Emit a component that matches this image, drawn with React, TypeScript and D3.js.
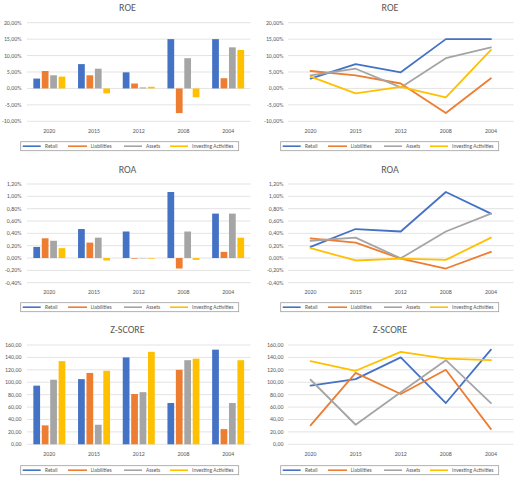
import React from 'react';
import * as d3 from 'd3';

const years = ['2020', '2015', '2012', '2008', '2004'];
const seriesNames = ['Retail', 'Liabilities', 'Assets', 'Investing Activities'];
const colors = ['#4472C4', '#ED7D31', '#A5A5A5', '#FFC000'];

// ROE, in percent
const roeRetail = [3.0, 7.4, 4.9, 15.0, 15.0];
const roeLiabilities = [5.3, 4.0, 1.5, -7.5, 3.1];
const roeAssets = [4.0, 6.0, 0.3, 9.2, 12.5];
const roeInvesting = [3.6, -1.5, 0.5, -2.7, 11.7];
const roeTicks = [-10, -5, 0, 5, 10, 15, 20];

// ROA, in percent
const roaRetail = [0.18, 0.47, 0.43, 1.07, 0.72];
const roaLiabilities = [0.32, 0.25, -0.01, -0.17, 0.1];
const roaAssets = [0.28, 0.33, -0.005, 0.43, 0.72];
const roaInvesting = [0.16, -0.04, -0.01, -0.03, 0.33];
const roaTicks = [-0.4, -0.2, 0, 0.2, 0.4, 0.6, 0.8, 1.0, 1.2];

// Z-score
const zRetail = [94.5, 105, 140, 66.5, 152.5];
const zLiabilities = [30.5, 115, 81, 120, 24.5];
const zAssets = [104, 31.5, 84, 135.5, 66.5];
const zInvesting = [134, 118.5, 149, 138, 135.5];
const zTicks = [0, 20, 40, 60, 80, 100, 120, 140, 160];

const FONT = 'Carlito, Calibri, Lato, sans-serif';
const TEXT = '#595959';

// rows: ROE, ROA, Z-SCORE ; cols: bars, lines
const rows = [
  { top: 22.7, bottom: 121.3, titleY: 7, xLabY: 130.7, legendTop: 141.7 },
  { top: 184, bottom: 282.7, titleY: 169, xLabY: 291.7, legendTop: 302.7 },
  { top: 345, bottom: 444.3, titleY: 329.7, xLabY: 453.7, legendTop: 465.7 },
];
const cols = [
  { left: 27, right: 250.5, labelRight: 21.5, titleX: 127.5, legendLeft: 20.7 },
  { left: 288, right: 513.5, labelRight: 283.5, titleX: 390, legendLeft: 280.7 },
];

const pct = (v: number) => d3.format('.2f')(v).replace('.', ',').replace('\u2212', '-') + '%';
const num = (v: number) => d3.format('.2f')(v).replace('.', ',').replace('\u2212', '-');

const legendItems = [
  { line: [2, 20], text: 24.3 },
  { line: [47.3, 66.3], text: 70 },
  { line: [103.3, 121.3], text: 125.3 },
  { line: [149.3, 167.3], text: 171.3 },
];

type PanelProps = {
  title: string;
  values: number[][];
  ticks: number[];
  fmt: (v: number) => string;
  kind: 'bar' | 'line';
  row: number;
  col: number;
};

const Panel = ({ title, values, ticks, fmt, kind, row, col }: PanelProps) => {
  const r = rows[row];
  const c = cols[col];
  const x = d3.scaleBand().domain(years).range([c.left, c.right]);
  const y = d3
    .scaleLinear()
    .domain([ticks[0], ticks[ticks.length - 1]])
    .range([r.bottom, r.top]);
  const groupW = 32;
  const x1 = d3.scaleBand().domain(seriesNames).range([0, groupW]).paddingInner(0.2);
  const off = (x.bandwidth() - groupW) / 2;
  const line = d3
    .line<number>()
    .x((_, i) => x(years[i])! + x.bandwidth() / 2)
    .y(d => y(d));

  return (
    <g>
      <text x={c.titleX} y={r.titleY} textAnchor="middle" dominantBaseline="central"
        fontSize={10} fill={TEXT} fontFamily={FONT}>{title}</text>
      {ticks.map(t => (
        <g key={t}>
          <line x1={c.left} x2={c.right} y1={y(t)} y2={y(t)} stroke="#D9D9D9" strokeWidth={0.75} />
          <text x={c.labelRight} y={y(t)} textAnchor="end" dominantBaseline="central"
            fontSize={5.9} fill={TEXT} fontFamily={FONT}>{fmt(t)}</text>
        </g>
      ))}
      {years.map(yr => (
        <text key={yr} x={x(yr)! + x.bandwidth() / 2} y={r.xLabY} textAnchor="middle"
          dominantBaseline="central" fontSize={5.9} fill={TEXT} fontFamily={FONT}>{yr}</text>
      ))}
      {kind === 'bar' &&
        values.map((vals, s) =>
          vals.map((v, i) => (
            <rect key={s + '-' + i}
              x={x(years[i])! + off + x1(seriesNames[s])!}
              y={Math.min(y(v), y(0))}
              width={x1.bandwidth()}
              height={Math.abs(y(v) - y(0))}
              fill={colors[s]} />
          ))
        )}
      {kind === 'line' &&
        values.map((vals, s) => (
          <path key={s} d={line(vals)!} fill="none" stroke={colors[s]} strokeWidth={1.8}
            strokeLinejoin="round" strokeLinecap="round" />
        ))}
      <g transform={`translate(${c.legendLeft},${r.legendTop})`}>
        <rect x={0} y={0} width={218} height={9} fill="#fff" stroke="#999" strokeWidth={0.75} />
        {seriesNames.map((name, s) => (
          <g key={name}>
            <line x1={legendItems[s].line[0]} x2={legendItems[s].line[1]} y1={4.5} y2={4.5}
              stroke={colors[s]} strokeWidth={1.6} />
            <text x={legendItems[s].text} y={4.6} dominantBaseline="central" fontSize={5.5}
              fill={TEXT} fontFamily={FONT}>{name}</text>
          </g>
        ))}
      </g>
    </g>
  );
};

const App = () => {
  const roe = [roeRetail, roeLiabilities, roeAssets, roeInvesting];
  const roa = [roaRetail, roaLiabilities, roaAssets, roaInvesting];
  const z = [zRetail, zLiabilities, zAssets, zInvesting];
  return (
    <svg width={520} height={477} style={{ position: 'absolute', left: 0, top: 0, background: '#fff' }}>
      <rect width={520} height={477} fill="#fff" />
      <Panel title="ROE" values={roe} ticks={roeTicks} fmt={pct} kind="bar" row={0} col={0} />
      <Panel title="ROE" values={roe} ticks={roeTicks} fmt={pct} kind="line" row={0} col={1} />
      <Panel title="ROA" values={roa} ticks={roaTicks} fmt={pct} kind="bar" row={1} col={0} />
      <Panel title="ROA" values={roa} ticks={roaTicks} fmt={pct} kind="line" row={1} col={1} />
      <Panel title="Z-SCORE" values={z} ticks={zTicks} fmt={num} kind="bar" row={2} col={0} />
      <Panel title="Z-SCORE" values={z} ticks={zTicks} fmt={num} kind="line" row={2} col={1} />
    </svg>
  );
};

export default App;
